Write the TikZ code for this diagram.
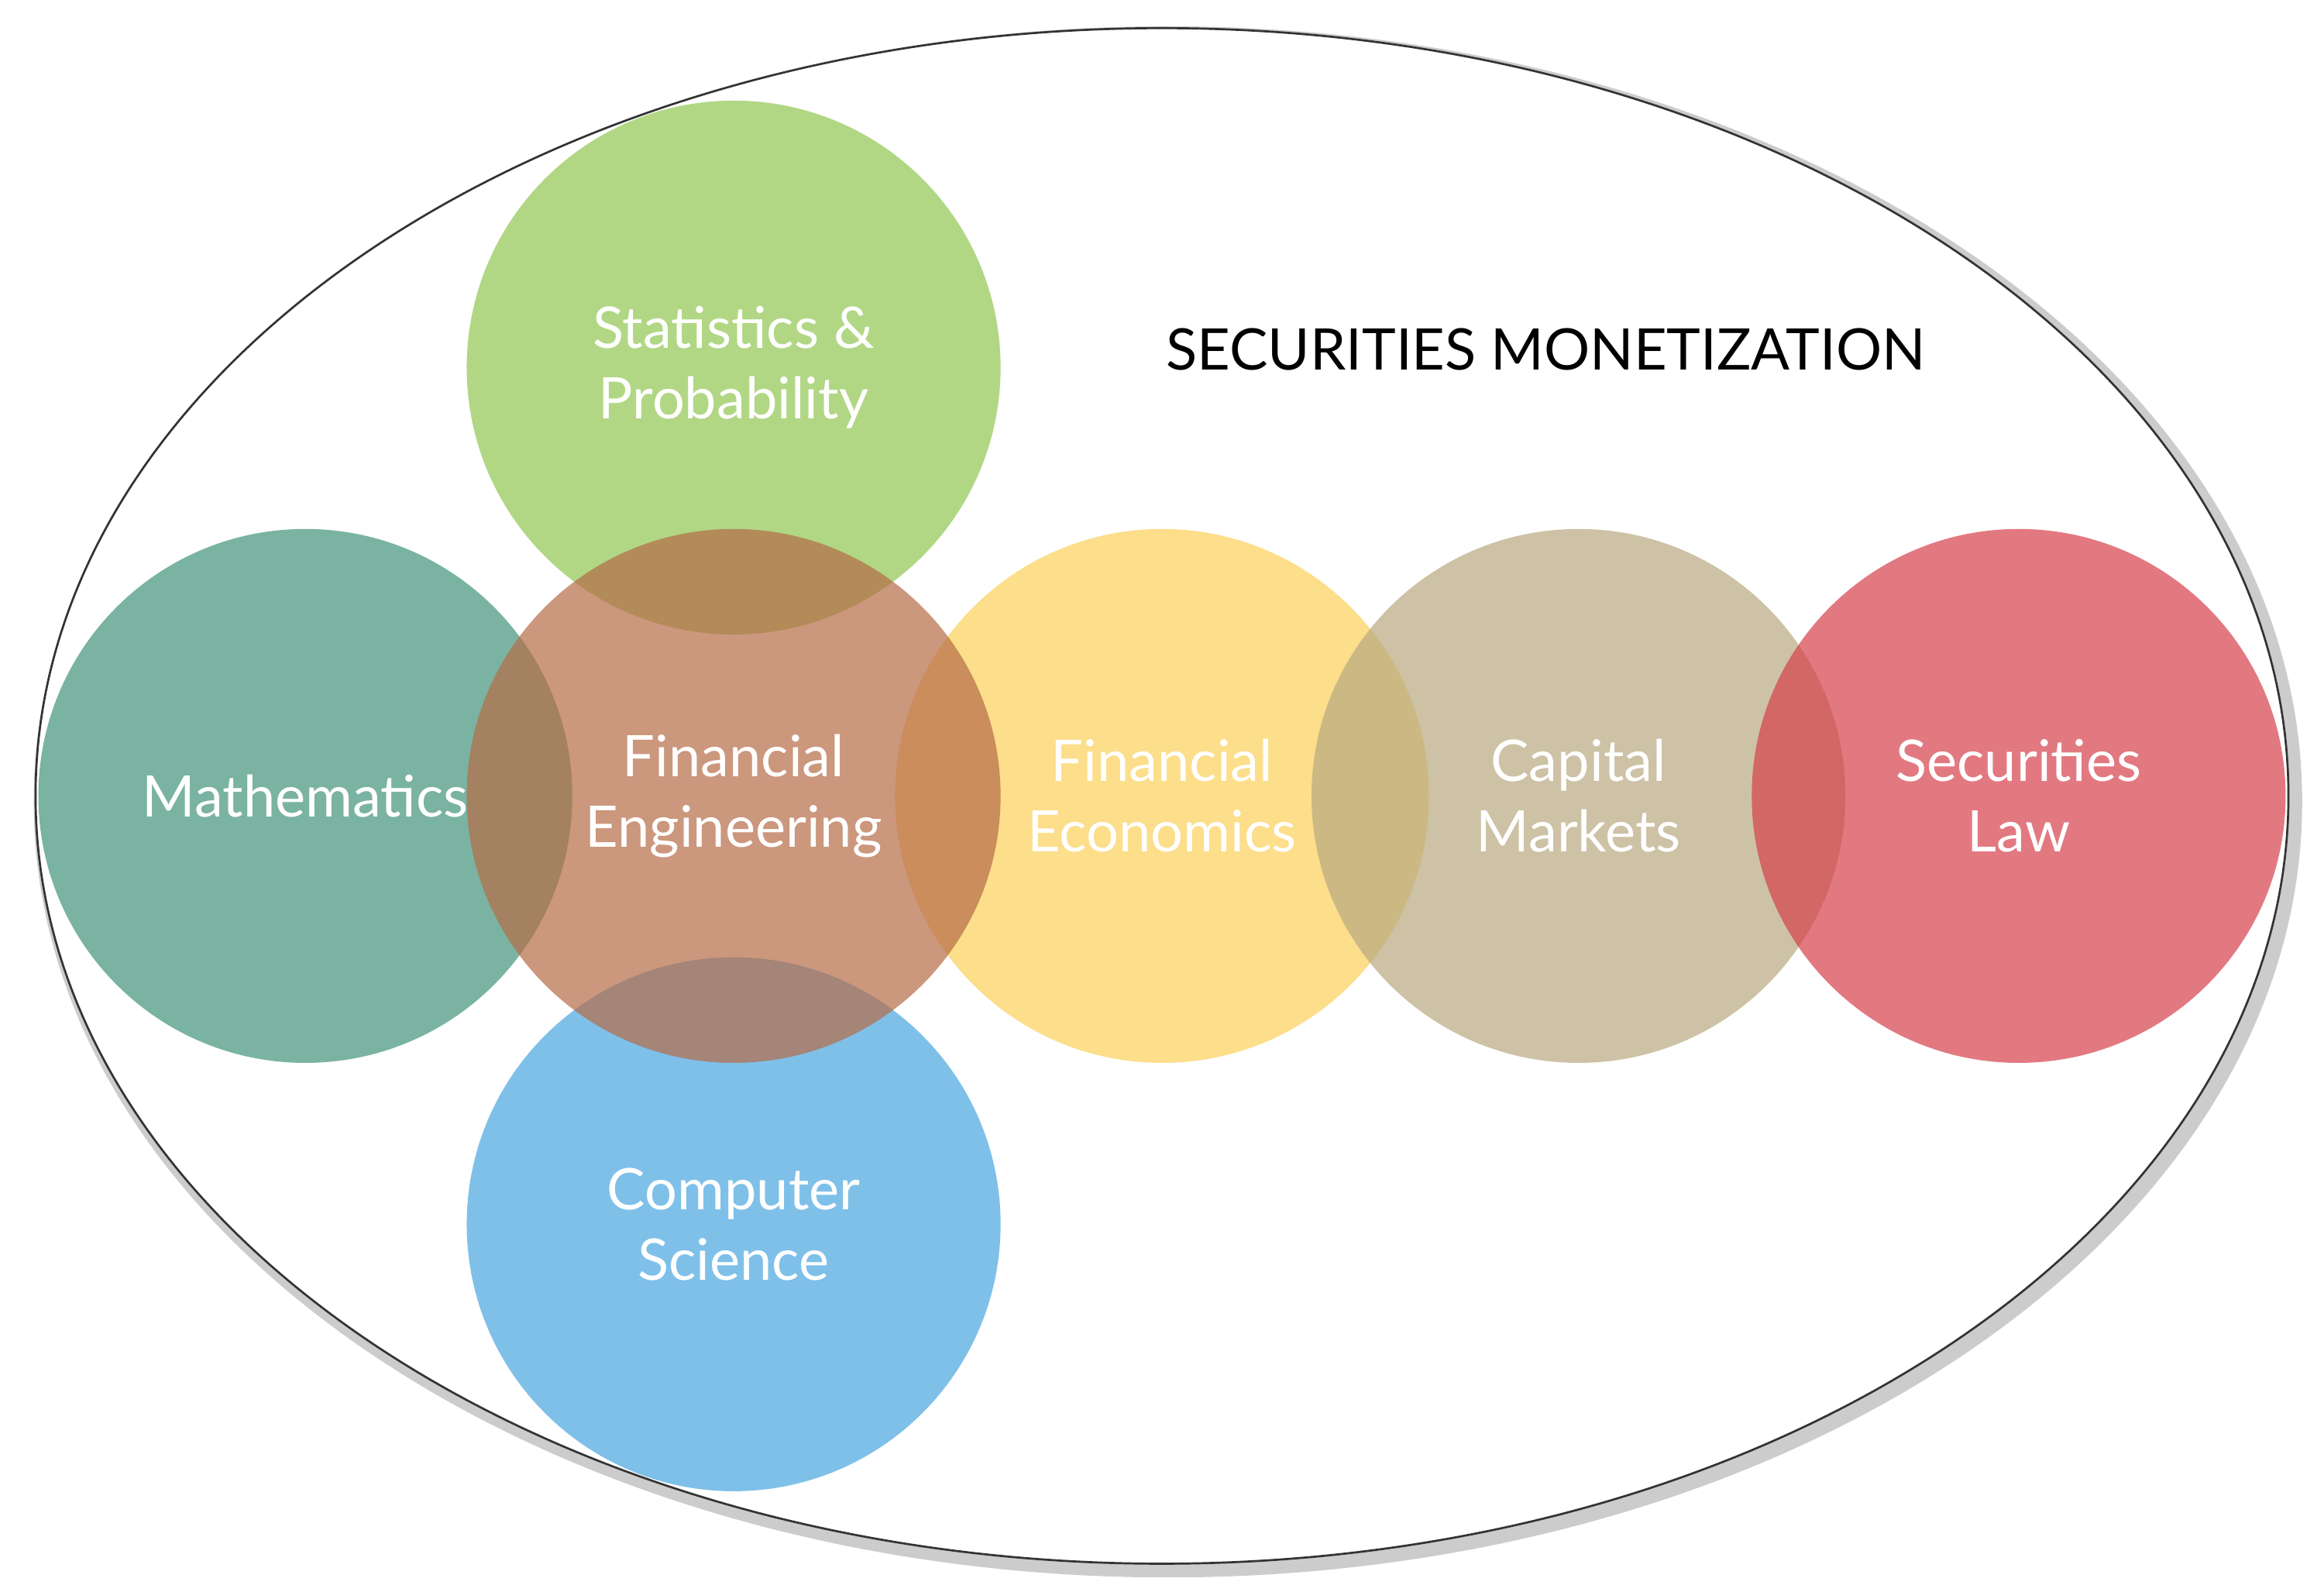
\documentclass[tikz,border=0pt]{standalone}
\usepackage{fontspec}
\setmainfont{Lato}
\definecolor{statgreen}{RGB}{145,199,82}
\definecolor{mathteal}{RGB}{66,148,122}
\definecolor{febrown}{RGB}{181,108,71}
\definecolor{econyellow}{RGB}{252,208,91}
\definecolor{captan}{RGB}{184,169,128}
\definecolor{lawred}{RGB}{214,65,76}
\definecolor{csblue}{RGB}{74,166,224}
\tikzset{
  field/.style={circle,minimum size=3.6cm,inner sep=0pt,fill opacity=0.7,text opacity=1,
    text=white,align=center,font=\fontsize{11}{13.5}\selectfont}
}
\begin{document}
\begin{tikzpicture}[x=0.01cm,y=-0.01cm]

\useasboundingbox (0,0) rectangle (1568,1074);
\draw[gray!40,line width=3pt] (788,541) ellipse [x radius=760,y radius=518];
\draw[black!80,fill=white] (784,537) ellipse [x radius=760,y radius=518];

\node[field,fill=statgreen] (stat) at (495,248) {Statistics \&\\Probability};
\node[field,fill=mathteal] (math) at (206,537) {Mathematics};
\node[field,fill=econyellow] (econ) at (784,537) {Financial\\Economics};
\node[field,fill=captan] (cap) at (1065,537) {Capital\\Markets};
\node[field,fill=lawred] (law) at (1362,537) {Securities\\Law};
\node[field,fill=csblue] (cs) at (495,826) {Computer\\Science};
\node[field,fill=febrown] (fe) at (495,537) {Financial\\Engineering};

\node[font=\fontsize{11}{13}\selectfont] (title) at (1043,236) {SECURITIES MONETIZATION};

\end{tikzpicture}
\end{document}
